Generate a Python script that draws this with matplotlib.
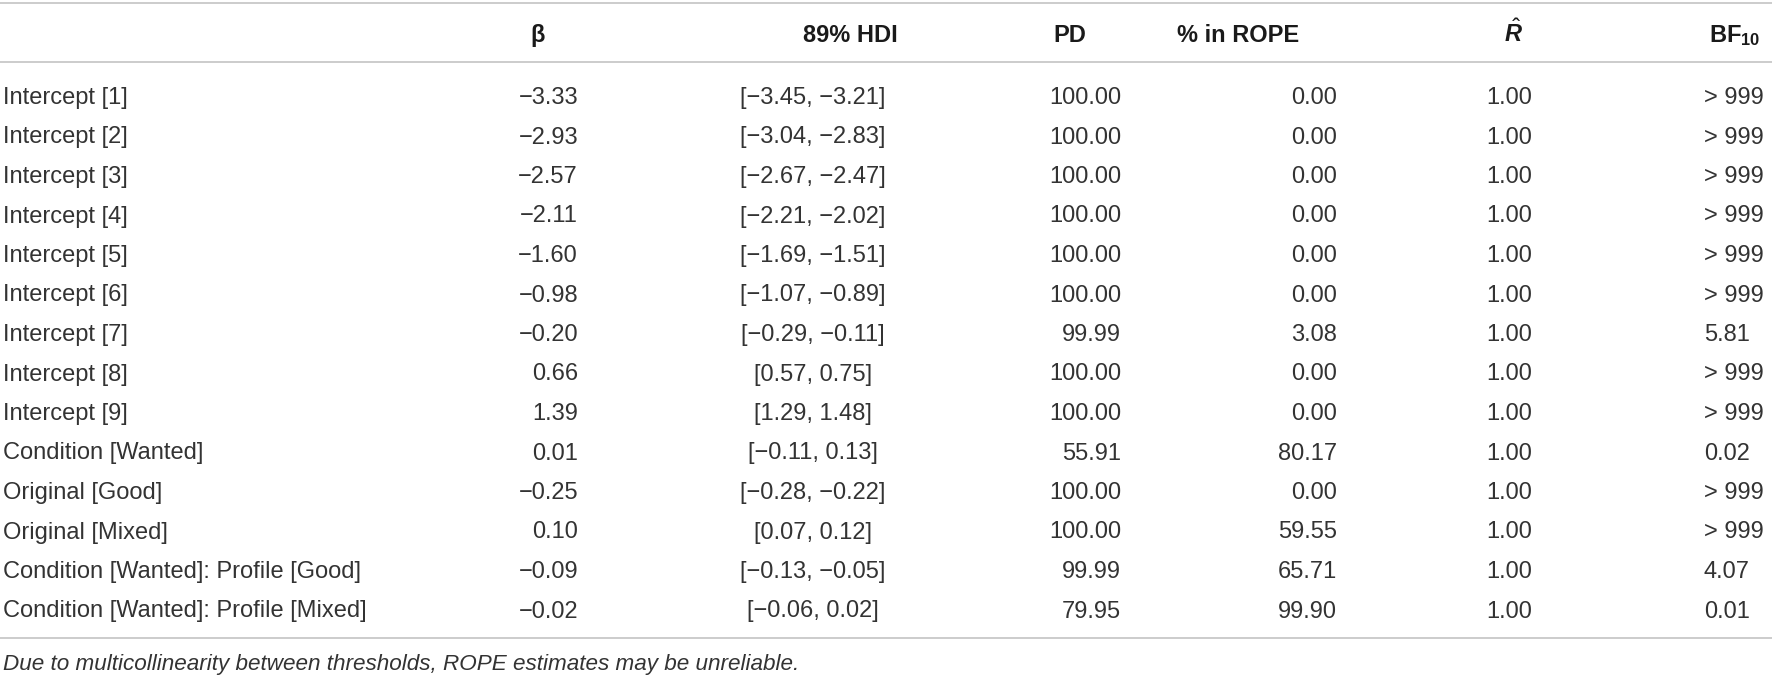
import matplotlib
matplotlib.use("Agg")
import matplotlib.pyplot as plt

plt.rcParams['font.family'] = ['Liberation Sans', 'DejaVu Sans']
plt.rcParams['mathtext.fontset'] = 'custom'
plt.rcParams['mathtext.rm'] = 'Liberation Sans'
plt.rcParams['mathtext.it'] = 'Liberation Sans:italic:bold'
plt.rcParams['mathtext.bf'] = 'Liberation Sans:bold'

# ---- data ----
row_labels = ["Intercept [1]", "Intercept [2]", "Intercept [3]", "Intercept [4]",
              "Intercept [5]", "Intercept [6]", "Intercept [7]", "Intercept [8]",
              "Intercept [9]", "Condition [Wanted]", "Original [Good]", "Original [Mixed]",
              "Condition [Wanted]: Profile [Good]", "Condition [Wanted]: Profile [Mixed]"]
beta = [-3.33, -2.93, -2.57, -2.11, -1.60, -0.98, -0.20, 0.66, 1.39, 0.01, -0.25, 0.10, -0.09, -0.02]
hdi_low = [-3.45, -3.04, -2.67, -2.21, -1.69, -1.07, -0.29, 0.57, 1.29, -0.11, -0.28, 0.07, -0.13, -0.06]
hdi_high = [-3.21, -2.83, -2.47, -2.02, -1.51, -0.89, -0.11, 0.75, 1.48, 0.13, -0.22, 0.12, -0.05, 0.02]
pd_vals = [100.00, 100.00, 100.00, 100.00, 100.00, 100.00, 99.99, 100.00, 100.00, 55.91, 100.00, 100.00, 99.99, 79.95]
rope = [0.00, 0.00, 0.00, 0.00, 0.00, 0.00, 3.08, 0.00, 0.00, 80.17, 0.00, 59.55, 65.71, 99.90]
rhat = [1.00] * 14
bf10 = ["> 999", "> 999", "> 999", "> 999", "> 999", "> 999", "5.81", "> 999", "> 999",
        "0.02", "> 999", "> 999", "4.07", "0.01"]
headers = ["β", "89% HDI", "PD", "% in ROPE", r"$\hat{R}$", r"BF$_{\mathbf{10}}$"]
footnote = "Due to multicollinearity between thresholds, ROPE estimates may be unreliable."


def fmt(v):
    s = f"{v:.2f}"
    return s.replace("-", "\u2212")


W, H = 1772, 677
fig = plt.figure(figsize=(W / 100, H / 100), dpi=100)
ax = fig.add_axes([0, 0, 1, 1])
ax.set_xlim(0, W)
ax.set_ylim(H, 0)
ax.axis("off")

txt = "#333333"
fs = 17.0
line_c = "#c4c4c4"

# horizontal rules
for y in (3, 62, 638):
    ax.plot([0, W], [y, y], color=line_c, lw=1.2, solid_capstyle="butt")

# header
header_pos = [(538, "center"), (898, "right"), (1053, "left"), (1177, "left"),
              (1513, "center"), (1760, "right")]
for (x, ha), h in zip(header_pos, headers):
    ax.text(x, 42, h, ha=ha, va="baseline", fontsize=fs, fontweight="bold", color="#1a1a1a")

# column anchors (x, alignment)
cols = [(578, "right"), (813, "center"), (1121, "right"), (1337, "right"),
        (1532, "right"), (1704, "left")]
row0, dy = 104, 39.5
for i, lab in enumerate(row_labels):
    y = row0 + i * dy
    cells = [fmt(beta[i]), f"[{fmt(hdi_low[i])}, {fmt(hdi_high[i])}]", f"{pd_vals[i]:.2f}",
             f"{rope[i]:.2f}", f"{rhat[i]:.2f}", bf10[i]]
    ax.text(3, y, lab, ha="left", va="baseline", fontsize=fs, color=txt)
    for (x, ha), c in zip(cols, cells):
        ax.text(x, y, c, ha=ha, va="baseline", fontsize=fs, color=txt)

ax.text(3, 670, footnote, ha="left", va="baseline", fontsize=16.2, style="italic", color=txt)

fig.savefig("out.png", dpi=100)
